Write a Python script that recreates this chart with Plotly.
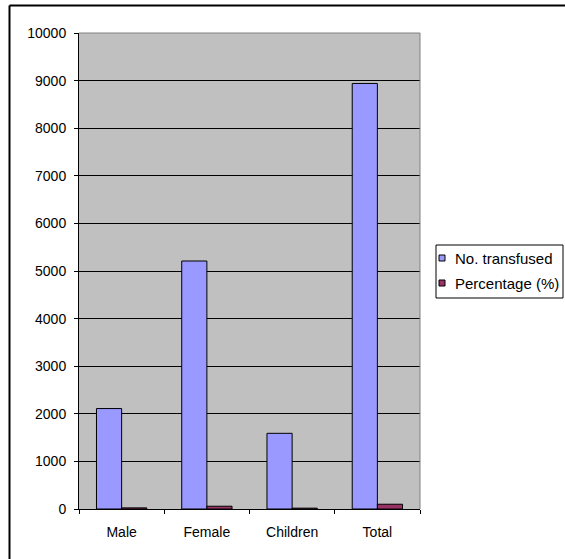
import plotly.graph_objects as go

categories = ["Male", "Female", "Children", "Total"]
transfused = [2110, 5210, 1590, 8940]
percentage = [23.6, 58.3, 17.8, 100]
y_ticks = [0, 1000, 2000, 3000, 4000, 5000, 6000, 7000, 8000, 9000, 10000]
y_tick_text = [str(v) for v in y_ticks]
series_names = ["No. transfused", "Percentage (%)"]
series_colors = ["#9999FF", "#993366"]

W, H = 565, 559
L, R, T, B = 79, 420, 33, 509
pw, ph = R - L, B - T

def px(x):
    return (x - L) / pw

def py(y):
    return (B - y) / ph

fig = go.Figure()
for name, vals, col in zip(series_names, [transfused, percentage], series_colors):
    fig.add_trace(go.Bar(x=categories, y=vals, name=name, showlegend=False,
                         marker=dict(color=col, line=dict(color="black", width=1))))

fig.update_layout(
    width=W, height=H,
    margin=dict(l=L, r=W - R, t=T, b=H - B, pad=0, autoexpand=False),
    paper_bgcolor="white",
    plot_bgcolor="#C0C0C0",
    barmode="group",
    bargap=0.41,
    bargroupgap=0,
    font=dict(family="Liberation Sans, Arial, sans-serif", size=14, color="black"),
    xaxis=dict(showline=True, linecolor="black", linewidth=1,
               ticks="outside", ticklen=4, tickcolor="black", tickson="boundaries",
               ticklabelstandoff=10, showgrid=False),
    yaxis=dict(range=[0, 10000], tickvals=y_ticks, ticktext=y_tick_text,
               showline=True, linecolor="black",
               linewidth=1, ticks="outside", ticklen=4, tickcolor="black",
               showgrid=True, gridcolor="black", gridwidth=1, zeroline=False,
               ticklabelstandoff=5),
)

# gray top/right frame of plot area
fig.add_shape(type="line", xref="paper", yref="paper", x0=0, x1=1, y0=1, y1=1,
              line=dict(color="#808080", width=1), layer="above")
fig.add_shape(type="line", xref="paper", yref="paper", x0=1, x1=1, y0=0, y1=1,
              line=dict(color="#808080", width=1), layer="above")
# outer chart border (top and left edges visible)
fig.add_shape(type="line", xref="paper", yref="paper", x0=px(9.5), x1=px(600),
              y0=py(5.5), y1=py(5.5), line=dict(color="black", width=2), layer="above")
fig.add_shape(type="line", xref="paper", yref="paper", x0=px(9.5), x1=px(9.5),
              y0=py(5.5), y1=py(600), line=dict(color="black", width=2), layer="above")

# legend box
fig.add_shape(type="rect", xref="paper", yref="paper", x0=px(436), x1=px(563),
              y0=py(298), y1=py(245), line=dict(color="black", width=1),
              fillcolor="white", layer="above")
row_y = [258, 283]
for name, col, yy in zip(series_names, series_colors, row_y):
    fig.add_shape(type="rect", xref="paper", yref="paper", x0=px(439), x1=px(445),
                  y0=py(yy + 3), y1=py(yy - 3), line=dict(color="black", width=1),
                  fillcolor=col, layer="above")
    fig.add_annotation(xref="paper", yref="paper", x=px(453), y=py(yy), text=name,
                       showarrow=False, xanchor="left", yanchor="middle",
                       font=dict(size=15))

fig.write_html("out.html")
